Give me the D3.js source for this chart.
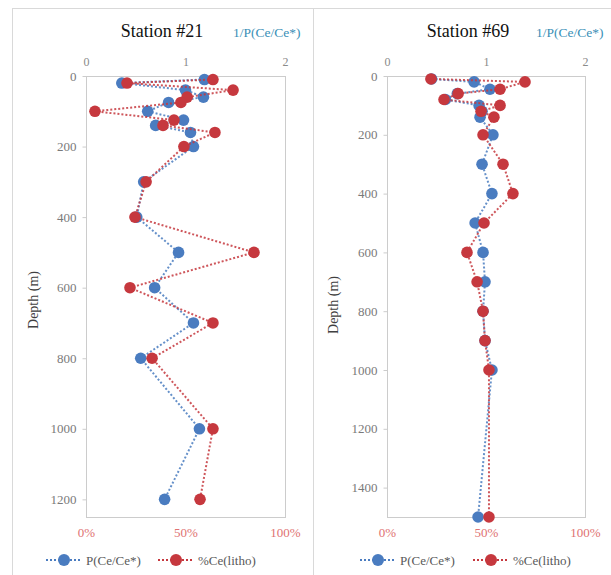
<!DOCTYPE html>
<html>
<head>
<meta charset="utf-8">
<script src="https://cdn.jsdelivr.net/npm/d3@7"></script>
<style>
  body { margin: 0; background: #fff; }
  svg text { font-family: "Liberation Serif", "Times New Roman", serif; }
</style>
</head>
<body>
<div id="chart"></div>
<script>
// station #21
var depth21 = [10, 20, 40, 60, 75, 100, 125, 140, 160, 200, 300, 400, 500, 600, 700, 800, 1000, 1200];
var pce21   = [1.19, 0.36, 1.00, 1.18, 0.83, 0.62, 0.98, 0.70, 1.05, 1.08, 0.58, 0.51, 0.93, 0.69, 1.08, 0.55, 1.14, 0.79];
var litho21 = [63.8, 20.6, 73.9, 50.8, 47.7, 4.5, 44.2, 38.7, 64.8, 49.2, 30.2, 24.6, 84.4, 22.1, 63.8, 33.2, 63.8, 57.3];

// station #69
var depth69 = [10, 20, 45, 60, 80, 100, 120, 140, 200, 300, 400, 500, 600, 700, 800, 900, 1000, 1500];
var pce69   = [0.45, 0.88, 1.04, 0.71, 0.59, 0.93, 0.96, 0.94, 1.07, 0.96, 1.06, 0.89, 0.97, 0.99, 0.97, 0.99, 1.06, 0.92];
var litho69 = [22.2, 69.7, 57.1, 35.9, 28.8, 57.1, 47.5, 54.0, 48.5, 58.6, 63.6, 49.0, 40.4, 45.5, 48.5, 49.5, 51.5, 51.5];

var ticks21 = [0, 200, 400, 600, 800, 1000, 1200];
var ticks69 = [0, 200, 400, 600, 800, 1000, 1200, 1400];
var topTicks = [0, 1, 2];
var botTicks = [0, 50, 100];
var seriesNames = ["P(Ce/Ce*)", "%Ce(litho)"];

var blue = "#4a7cc0", red = "#c6383e";
var serif = "'Liberation Serif', 'Times New Roman', serif";

var svg = d3.select("#chart").append("svg")
  .attr("width", 611).attr("height", 575);

// chart boxes
svg.append("rect").attr("x", 12.5).attr("y", 8.5).attr("width", 301).attr("height", 580)
  .attr("fill", "none").attr("stroke", "#d9d9d9");
svg.append("rect").attr("x", 313.5).attr("y", 8.5).attr("width", 310).attr("height", 580)
  .attr("fill", "none").attr("stroke", "#d9d9d9");

function panel(opt){
  var g = svg.append("g");

  var y = d3.scaleLinear().domain([0, opt.maxDepth]).range([76, 517]);
  var xTop = d3.scaleLinear().domain([0, 2]).range([opt.x0, opt.x1]);
  var xBot = d3.scaleLinear().domain([0, 100]).range([opt.x0, opt.x1]);

  // plot area frame
  g.append("rect").attr("x", opt.x0 + 0.5).attr("y", 76.5)
    .attr("width", opt.x1 - opt.x0).attr("height", 441)
    .attr("fill", "none").attr("stroke", "#cccccc");

  // left axis
  var ay = g.append("g").attr("transform", "translate(" + (opt.x0 + 0.5) + ",0)")
    .attr("font-family", serif)
    .call(d3.axisLeft(y).tickValues(opt.ticks).tickSize(4).tickPadding(6).tickFormat(d3.format("d")));
  ay.attr("font-family", serif);
  ay.select(".domain").remove();
  ay.selectAll("line").attr("stroke", "#cccccc");
  ay.selectAll("text").attr("fill", "#7a7a7a").style("font-size", "13px");

  // top axis 1/P(Ce/Ce*)
  var at = g.append("g").attr("transform", "translate(0,66)")
    .call(d3.axisTop(xTop).tickValues(topTicks).tickSize(0).tickPadding(0).tickFormat(d3.format("d")));
  at.attr("font-family", serif);
  at.select(".domain").remove();
  at.selectAll("text").attr("fill", "#8a8a8a").style("font-size", "12px");

  // bottom axis %
  var ab = g.append("g").attr("transform", "translate(0,522)")
    .call(d3.axisBottom(xBot).tickValues(botTicks).tickSize(0).tickPadding(6)
      .tickFormat(function(d){ return d + "%"; }));
  ab.attr("font-family", serif);
  ab.select(".domain").remove();
  ab.selectAll("text").attr("fill", "#e07272").style("font-size", "13px");

  // titles
  g.append("text").attr("x", opt.titleX).attr("y", 37).attr("text-anchor", "middle")
    .style("font-size", "18px").attr("fill", "#111").text(opt.title);
  g.append("text").attr("x", opt.topLabelX).attr("y", 37)
    .style("font-size", "13.5px").attr("fill", "#3a8fb7").text("1/P(Ce/Ce*)");
  g.append("text")
    .attr("transform", "translate(" + opt.depthLabelX + "," + opt.depthLabelY + ") rotate(-90)")
    .attr("text-anchor", "middle").attr("dy", "0.35em")
    .style("font-size", "14px").attr("fill", "#404040").text("Depth (m)");

  // series
  var sets = [
    {vals: opt.pce, x: xTop, color: blue},
    {vals: opt.litho, x: xBot, color: red}
  ];
  sets.forEach(function(s){
    var pts = opt.depth.map(function(d, i){ return [s.x(s.vals[i]), y(d)]; });
    g.append("path").datum(pts)
      .attr("d", d3.line())
      .attr("fill", "none").attr("stroke", s.color).attr("stroke-opacity", 0.85)
      .attr("stroke-width", 2).attr("stroke-dasharray", "2,2");
    g.selectAll(null).data(pts).enter().append("circle")
      .attr("cx", function(d){ return d[0]; })
      .attr("cy", function(d){ return d[1]; })
      .attr("r", 5.8).attr("fill", s.color);
  });

  // legend
  var lg = g.append("g").attr("transform", "translate(0,560)");
  [[opt.leg[0], blue], [opt.leg[1], red]].forEach(function(l, i){
    lg.append("line").attr("x1", l[0] - 18).attr("x2", l[0] + 18)
      .attr("stroke", l[1]).attr("stroke-width", 2).attr("stroke-dasharray", "2,2");
    lg.append("circle").attr("cx", l[0]).attr("cy", 0).attr("r", 6).attr("fill", l[1]);
    lg.append("text").attr("x", l[0] + 22).attr("y", 0).attr("dy", "0.35em")
      .style("font-size", "13px").attr("fill", "#595959").text(seriesNames[i]);
  });
}

panel({x0: 86, x1: 285, maxDepth: 1250, ticks: ticks21, title: "Station #21",
  titleX: 162, topLabelX: 233, depthLabelX: 33, depthLabelY: 300,
  depth: depth21, pce: pce21, litho: litho21, leg: [64, 176]});

panel({x0: 387, x1: 585, maxDepth: 1500, ticks: ticks69, title: "Station #69",
  titleX: 468, topLabelX: 536, depthLabelX: 333, depthLabelY: 305,
  depth: depth69, pce: pce69, litho: litho69, leg: [378, 491]});
</script>
</body>
</html>
